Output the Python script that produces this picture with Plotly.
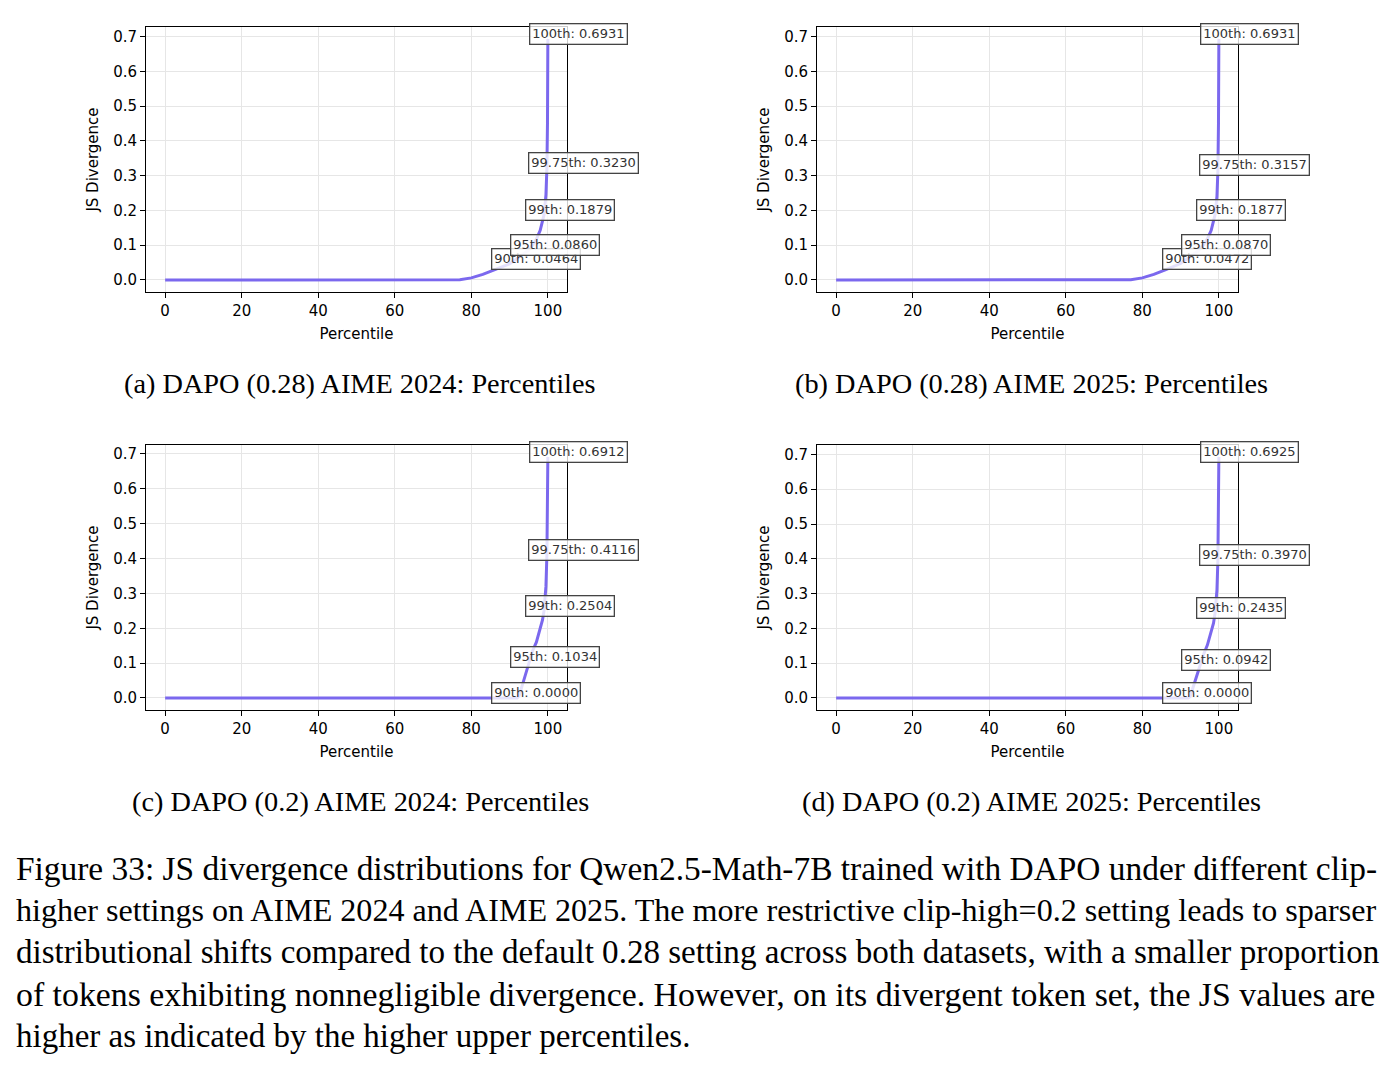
import plotly.graph_objects as go

# ---------------- data ----------------
percentile_grid = [0, 70, 75, 77, 80, 83, 86, 90, 92, 92.5, 94, 95, 96, 97, 98, 98.6, 99, 99.5, 99.75, 99.9, 100]

js_a = [0, 0, 0, 0.0005, 0.006, 0.016, 0.029, 0.0464, 0.062, 0.066, 0.077, 0.0860, 0.100, 0.117, 0.143, 0.168, 0.1879, 0.245, 0.3230, 0.45, 0.6931]
js_b = [0, 0, 0, 0.0005, 0.006, 0.016, 0.029, 0.0472, 0.063, 0.067, 0.078, 0.0870, 0.101, 0.118, 0.143, 0.168, 0.1877, 0.240, 0.3157, 0.45, 0.6931]
js_c = [0, 0, 0, 0, 0, 0, 0, 0.0000, 0, 0.006, 0.063, 0.1034, 0.135, 0.160, 0.200, 0.224, 0.2504, 0.320, 0.4116, 0.52, 0.6912]
js_d = [0, 0, 0, 0, 0, 0, 0, 0.0000, 0, 0.004, 0.055, 0.0942, 0.125, 0.152, 0.190, 0.215, 0.2435, 0.310, 0.3970, 0.50, 0.6925]

label_percentiles = [90, 95, 99, 99.75, 100]
label_names = ["90th", "95th", "99th", "99.75th", "100th"]
labels_a = [0.0464, 0.0860, 0.1879, 0.3230, 0.6931]
labels_b = [0.0472, 0.0870, 0.1877, 0.3157, 0.6931]
labels_c = [0.0000, 0.1034, 0.2504, 0.4116, 0.6912]
labels_d = [0.0000, 0.0942, 0.2435, 0.3970, 0.6925]

subcaptions = [
    "(a) DAPO (0.28) AIME 2024: Percentiles",
    "(b) DAPO (0.28) AIME 2025: Percentiles",
    "(c) DAPO (0.2) AIME 2024: Percentiles",
    "(d) DAPO (0.2) AIME 2025: Percentiles",
]

caption_lines = [
    "Figure 33: JS divergence distributions for Qwen2.5-Math-7B trained with DAPO under different clip-",
    "higher settings on AIME 2024 and AIME 2025. The more restrictive clip-high=0.2 setting leads to sparser",
    "distributional shifts compared to the default 0.28 setting across both datasets, with a smaller proportion",
    "of tokens exhibiting nonnegligible divergence. However, on its divergent token set, the JS values are",
    "higher as indicated by the higher upper percentiles.",
]

x_ticks = [0, 20, 40, 60, 80, 100]
y_ticks = [0.0, 0.1, 0.2, 0.3, 0.4, 0.5, 0.6, 0.7]

# ---------------- styling / geometry ----------------
W, H = 1397, 1069
LINE_COLOR = "#7B68EE"
SANS = "DejaVu Sans"
SERIF = "Liberation Serif"
# per-line font sizes approximate the justified paragraph of the original
caption_sizes = [33.4, 32.1, 33.1, 33.8, 33.0]

panels = [
    # (values, labels, left, right, top, bottom) in pixels
    (js_a, labels_a, 146, 567, 27, 292),
    (js_b, labels_b, 817, 1238, 27, 292),
    (js_c, labels_c, 146, 567, 445, 710),
    (js_d, labels_d, 817, 1238, 445, 710),
]
caption_pos = [(360, 383), (1031, 383), (360, 801), (1031, 801)]

fig = go.Figure()
annotations = []
layout_axes = {}

for i, (vals, labs, l, r, t, b) in enumerate(panels):
    n = i + 1
    xa = "x" if n == 1 else f"x{n}"
    ya = "y" if n == 1 else f"y{n}"
    fig.add_trace(go.Scatter(
        x=percentile_grid, y=vals, mode="lines",
        line=dict(color=LINE_COLOR, width=3),
        xaxis=xa, yaxis=ya, showlegend=False, hoverinfo="skip",
    ))
    ymax = max(vals)
    ymin = min(vals)
    span = ymax - ymin
    xr = [min(percentile_grid) - 5, max(percentile_grid) + 5]
    yr = [ymin - 0.05 * span, ymax + 0.05 * span]
    common = dict(
        showline=True, linecolor="black", linewidth=1, mirror=True,
        ticks="outside", ticklen=5, tickcolor="black", tickwidth=1,
        showgrid=True, gridcolor="#e6e6e6", gridwidth=1, zeroline=False,
        tickfont=dict(family=SANS, size=15, color="black"),
    )
    layout_axes["xaxis" if n == 1 else f"xaxis{n}"] = dict(
        domain=[l / W, r / W], anchor=ya, range=xr,
        tickvals=x_ticks, ticktext=[str(v) for v in x_ticks],
        title=dict(text="Percentile", font=dict(family=SANS, size=15, color="black"), standoff=9),
        **common,
    )
    layout_axes["yaxis" if n == 1 else f"yaxis{n}"] = dict(
        domain=[1 - b / H, 1 - t / H], anchor=xa, range=yr,
        tickvals=y_ticks, ticktext=[f"{v:.1f}" for v in y_ticks],
        title=dict(text="JS Divergence", font=dict(family=SANS, size=15, color="black"), standoff=10),
        **common,
    )
    for p, name, v in zip(label_percentiles, label_names, labs):
        annotations.append(dict(
            x=p, y=v, xref=xa, yref=ya, text=f"{name}: {v:.4f}",
            showarrow=False, xanchor="left", yanchor="middle", xshift=-19, yshift=5,
            font=dict(family=SANS, size=13, color="#333333"),
            bgcolor="rgba(255,255,255,0.8)", bordercolor="#444444", borderwidth=1.3, borderpad=2,
        ))
    cx, cy = caption_pos[i]
    annotations.append(dict(
        x=cx / W, y=1 - cy / H, xref="paper", yref="paper", text=subcaptions[i],
        showarrow=False, xanchor="center", yanchor="middle",
        font=dict(family=SERIF, size=28.3, color="black"),
    ))

for k, line in enumerate(caption_lines):
    annotations.append(dict(
        x=14 / W, y=1 - (868 + 42 * k) / H, xref="paper", yref="paper", text=line,
        showarrow=False, xanchor="left", yanchor="middle",
        font=dict(family=SERIF, size=caption_sizes[k], color="black"),
    ))

fig.update_layout(
    width=W, height=H, margin=dict(l=0, r=0, t=0, b=0),
    paper_bgcolor="white", plot_bgcolor="white",
    annotations=annotations, **layout_axes,
)

fig.write_html("out.html")
